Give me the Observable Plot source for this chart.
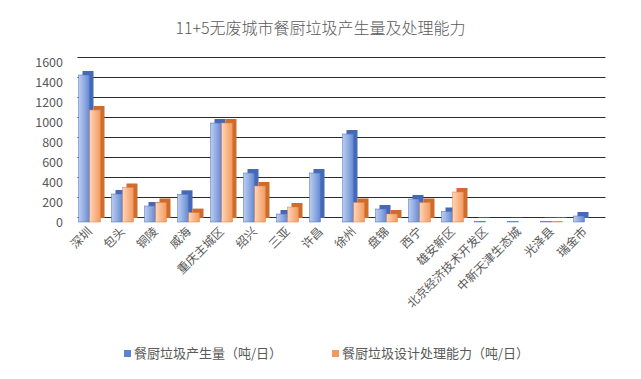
<!DOCTYPE html>
<html>
<head>
<meta charset="utf-8">
<script src="https://cdn.jsdelivr.net/npm/d3@7"></script>
<script src="https://cdn.jsdelivr.net/npm/@observablehq/plot@0.6"></script>
<style>
  body { margin: 0; background: #fff; width: 641px; height: 379px; overflow: hidden; font-family: "Noto Sans CJK SC", "Liberation Sans", sans-serif; }
  #title { height: 42px; box-sizing: border-box; padding-top: 16px; line-height: 22px; text-align: center; font-size: 16px; color: #595959; font-weight: 300; }
  #legend { box-sizing: border-box; padding-top: 12px; line-height: 18px; text-align: center; font-size: 13px; color: #595959; padding-left: 12px; }
  #legend .item { display: inline-block; margin: 0 25px; }
  #legend .sw { display: inline-block; width: 7px; height: 7px; margin-right: 3px; vertical-align: 1px; }
</style>
</head>
<body>
<div id="title">11+5无废城市餐厨垃圾产生量及处理能力</div>
<div id="chart"></div>
<div id="legend"></div>
<script>
const cities = ["深圳", "包头", "铜陵", "威海", "重庆主城区", "绍兴", "三亚", "许昌", "徐州", "盘锦", "西宁", "雄安新区", "北京经济技术开发区", "中新天津生态城", "光泽县", "瑞金市"];
const generated = [1470, 280, 160, 277, 990, 490, 80, 490, 880, 130, 230, 105, 8, 4, 6, 60];
const capacity = [1120, 345, 195, 94, 990, 360, 150, 0, 195, 80, 195, 300, 0, 0, 6, 0];
const seriesNames = ["餐厨垃圾产生量（吨/日）", "餐厨垃圾设计处理能力（吨/日）"];
const yTicks = [0, 200, 400, 600, 800, 1000, 1200, 1400, 1600];

const gen = cities.map((c, i) => ({city: c, v: generated[i]}));
const cap = cities.map((c, i) => ({city: c, v: capacity[i]}));

const chart = Plot.plot({
  width: 641,
  height: 290,
  marginLeft: 72.5,
  marginRight: 40.5,
  marginTop: 20,
  marginBottom: 110,
  style: {fontFamily: "'Noto Sans CJK SC', 'Liberation Sans', sans-serif", fontSize: "12px", color: "#595959", background: "white", overflow: "visible"},
  x: {domain: cities, padding: 0, label: null},
  y: {domain: [0, 1600], label: null},
  marks: [
    Plot.ruleY(yTicks, {dx: 5, dy: -5, stroke: "#2b2b2b", strokeWidth: 1.2}),
    Plot.axisY({ticks: yTicks, tickSize: 0, tickPadding: 10, tickFormat: d => String(d), label: null, fill: "#595959", fontSize: 12.5}),
    Plot.axisX({tickSize: 0, tickPadding: 7, tickRotate: -45, label: null, fill: "#595959"}),
    Plot.barY(gen, {x: "city", y: "v", fill: "#4569b4", insetLeft: 5.5, insetRight: 16.5, dx: 4, dy: -4}),
    Plot.barY(gen, {x: "city", y: "v", fill: "url(#gb)", stroke: "#4a6fbf", strokeWidth: 0.5, insetLeft: 5.5, insetRight: 16.5}),
    Plot.barY(cap, {x: "city", y: "v", fill: "#cf6c2c", insetLeft: 16.5, insetRight: 5.5, dx: 4, dy: -4}),
    Plot.barY(cap, {x: "city", y: "v", fill: "url(#go)", stroke: "#e07f3f", strokeWidth: 0.5, insetLeft: 16.5, insetRight: 5.5})
  ]
});

const defs = d3.select(chart).insert("defs", ":first-child");
function grad(id, stops) {
  const g = defs.append("linearGradient").attr("id", id).attr("x1", 0).attr("x2", 1).attr("y1", 0).attr("y2", 0);
  stops.forEach(([o, c]) => g.append("stop").attr("offset", o).attr("stop-color", c));
}
grad("gb", [[0, "#bccdef"], [0.5, "#93ade2"], [1, "#6288d2"]]);
grad("go", [[0, "#fdd6bb"], [0.5, "#f9b78b"], [1, "#f29a5e"]]);

document.getElementById("chart").appendChild(chart);

const legendColors = ["#5d82cf", "#f29a5e"];
const legend = document.getElementById("legend");
seriesNames.forEach((name, i) => {
  const item = document.createElement("span");
  item.className = "item";
  const sw = document.createElement("span");
  sw.className = "sw";
  sw.style.background = legendColors[i];
  item.appendChild(sw);
  item.appendChild(document.createTextNode(name));
  legend.appendChild(item);
});
</script>
</body>
</html>
